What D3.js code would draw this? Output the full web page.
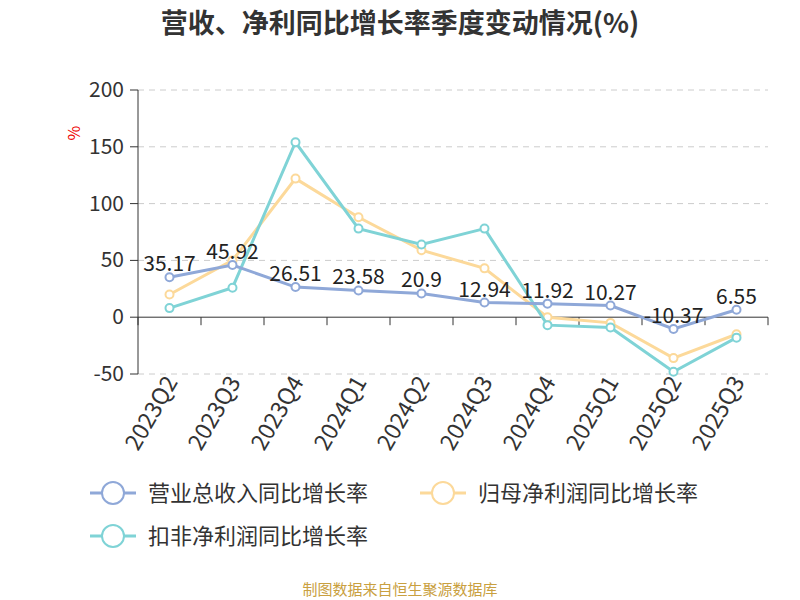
<!DOCTYPE html><html><head><meta charset="utf-8"><script src="https://cdn.jsdelivr.net/npm/d3@7"></script>
<style>body{margin:0;background:#fff}text{font-family:"Noto Sans CJK SC","Noto Sans",sans-serif}</style></head><body>
<svg id="c" width="800" height="600"></svg>
<script>
const categories=["2023Q2","2023Q3","2023Q4","2024Q1","2024Q2","2024Q3","2024Q4","2025Q1","2025Q2","2025Q3"];
const revenue=[35.17,45.92,26.51,23.58,20.9,12.94,11.92,10.27,-10.37,6.55];
const netProfit=[20,50,122,88,59,43,0,-5,-36,-15];
const deducted=[8,26,154,78,64,78,-7,-9,-48,-18];
const yTicks=[-50,0,50,100,150,200];
const names=["营业总收入同比增长率","归母净利润同比增长率","扣非净利润同比增长率"];
const colors=["#8fa8d8","#fcd99a","#7fd3d6"];
const svg=d3.select("#c");
const x=d3.scaleBand().domain(categories).range([138,768]);
const y=d3.scaleLinear().domain([-50,200]).range([374,90]);
svg.append("text").attr("x",400).attr("y",33).attr("text-anchor","middle").attr("font-size",27).attr("font-weight","bold").attr("fill","#333").text("营收、净利同比增长率季度变动情况(%)");
yTicks.forEach(t=>{
 if(t!==0) svg.append("line").attr("x1",138).attr("x2",768).attr("y1",y(t)).attr("y2",y(t)).attr("stroke","#ccc").attr("stroke-dasharray","6,5");
 svg.append("line").attr("x1",130).attr("x2",138).attr("y1",y(t)).attr("y2",y(t)).attr("stroke","#333");
 svg.append("text").attr("x",124).attr("y",y(t)+7).attr("text-anchor","end").attr("font-size",21).attr("fill","#333").text(t);
});
svg.append("line").attr("x1",138).attr("x2",138).attr("y1",90).attr("y2",374).attr("stroke","#333");
svg.append("line").attr("x1",138).attr("x2",768).attr("y1",y(0)).attr("y2",y(0)).attr("stroke","#333");
categories.forEach((c,i)=>{
 const xx=x(c);
 svg.append("line").attr("x1",xx).attr("x2",xx).attr("y1",y(0)).attr("y2",y(0)+8).attr("stroke","#333");
 const cx=xx+x.bandwidth()/2;
 svg.append("text").attr("transform",`translate(${cx+9},382) rotate(-60)`).attr("text-anchor","end").attr("font-size",23).attr("fill","#333").text(c);
});
svg.append("line").attr("x1",768).attr("x2",768).attr("y1",y(0)).attr("y2",y(0)+8).attr("stroke","#333");
svg.append("text").attr("transform","translate(80,133) rotate(-90)").attr("text-anchor","middle").attr("font-size",16).attr("fill","#e00").text("%");
const line=d3.line().x((d,i)=>x(categories[i])+x.bandwidth()/2).y(d=>y(d));
[netProfit,deducted,revenue].forEach((s,k)=>{
 const col=[colors[1],colors[2],colors[0]][k];
 svg.append("path").attr("d",line(s)).attr("fill","none").attr("stroke",col).attr("stroke-width",3);
 s.forEach((d,i)=>svg.append("circle").attr("cx",x(categories[i])+x.bandwidth()/2).attr("cy",y(d)).attr("r",4).attr("fill","#fff").attr("stroke",col).attr("stroke-width",2));
});
revenue.forEach((d,i)=>svg.append("text").attr("x",x(categories[i])+x.bandwidth()/2).attr("y",y(d)-6).attr("text-anchor","middle").attr("font-size",21).attr("fill","#222").text(d));
const leg=[[90,493],[420,493],[90,536]];
names.forEach((n,i)=>{
 const [lx,ly]=leg[i];
 svg.append("line").attr("x1",lx).attr("x2",lx+46).attr("y1",ly).attr("y2",ly).attr("stroke",colors[i]).attr("stroke-width",3);
 svg.append("circle").attr("cx",lx+23).attr("cy",ly).attr("r",11).attr("fill","#fff").attr("stroke",colors[i]).attr("stroke-width",2);
 svg.append("text").attr("x",lx+58).attr("y",ly+8).attr("font-size",22).attr("fill","#333").text(n);
});
svg.append("text").attr("x",400).attr("y",595).attr("text-anchor","middle").attr("font-size",15).attr("fill","#c9a040").text("制图数据来自恒生聚源数据库");
</script></body></html>
